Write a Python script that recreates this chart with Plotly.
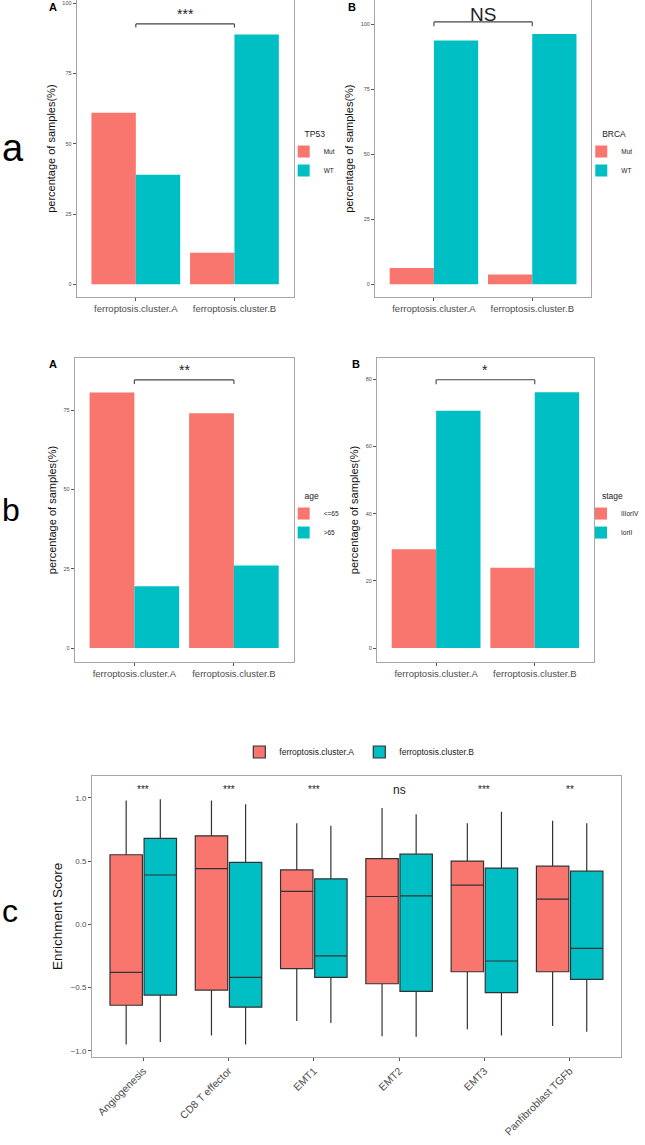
import plotly.graph_objects as go

# ---------------- data ----------------
clusters = ["ferroptosis.cluster.A", "ferroptosis.cluster.B"]

tp53_mut = [61.0, 11.2]
tp53_wt = [39.0, 88.8]
brca_mut = [6.3, 3.8]
brca_wt = [93.7, 96.2]
age_le65 = [80.5, 74.0]
age_gt65 = [19.5, 26.0]
stage_3or4 = [29.4, 23.9]
stage_1or2 = [70.6, 76.1]

signatures = ["Angiogenesis", "CD8 T effector", "EMT1", "EMT2", "EMT3", "Panfibroblast TGFb"]
a_upper = [0.98, 0.98, 0.80, 0.92, 0.80, 0.82]
a_q3 = [0.55, 0.70, 0.43, 0.52, 0.50, 0.46]
a_median = [-0.38, 0.44, 0.26, 0.22, 0.31, 0.20]
a_q1 = [-0.64, -0.52, -0.35, -0.47, -0.375, -0.375]
a_lower = [-0.95, -0.88, -0.765, -0.885, -0.83, -0.805]
b_upper = [0.99, 0.95, 0.78, 0.87, 0.89, 0.80]
b_q3 = [0.68, 0.49, 0.36, 0.555, 0.445, 0.42]
b_median = [0.39, -0.42, -0.25, 0.225, -0.29, -0.19]
b_q1 = [-0.56, -0.655, -0.42, -0.53, -0.54, -0.435]
b_lower = [-0.93, -0.95, -0.78, -0.89, -0.88, -0.85]
box_sig = ["***", "***", "***", "ns", "***", "**"]

RED = "#F8766D"
TEAL = "#00BFC4"
FONT = "Liberation Sans, Arial, sans-serif"
W, H = 645, 1145

def px_x(p):
    return p / W

def px_y(p):
    return 1 - p / H

fig = go.Figure()

# ---------------- bar panels ----------------
bar_panels = [
    ("x", "y", "legend", ["Mut", "WT"], [tp53_mut, tp53_wt]),
    ("x2", "y2", "legend2", ["Mut", "WT"], [brca_mut, brca_wt]),
    ("x3", "y3", "legend3", ["<=65", ">65"], [age_le65, age_gt65]),
    ("x4", "y4", "legend4", ["IIIorIV", "IorII"], [stage_3or4, stage_1or2]),
]
for xa, ya, lg, names, series in bar_panels:
    for nm, vals, col in zip(names, series, [RED, TEAL]):
        fig.add_trace(go.Bar(
            x=clusters, y=vals, name=nm, xaxis=xa, yaxis=ya, legend=lg,
            marker=dict(color=col, line=dict(width=0)),
            hoverinfo="x+y+name",
        ))

# ---------------- box panel ----------------
for nm, q1, med, q3, lo, up, col in [
    ("ferroptosis.cluster.A", a_q1, a_median, a_q3, a_lower, a_upper, RED),
    ("ferroptosis.cluster.B", b_q1, b_median, b_q3, b_lower, b_upper, TEAL),
]:
    fig.add_trace(go.Box(
        x=signatures, q1=q1, median=med, q3=q3, lowerfence=lo, upperfence=up,
        name=nm, xaxis="x5", yaxis="y5", legend="legend5",
        fillcolor=col, line=dict(color="#333333", width=1.2),
        whiskerwidth=0, boxpoints=False,
    ))

# ---------------- axes ----------------
def xstyle(domain, anchor, size, rng, angle=0):
    return dict(
        domain=domain, anchor=anchor, range=rng, showline=True, mirror=True,
        linecolor="#A6A6A6", linewidth=1, ticks="outside", ticklen=3,
        tickcolor="#555555", tickwidth=0.8, showgrid=False, zeroline=False,
        tickfont=dict(size=size, color="#4D4D4D", family=FONT),
        tickangle=angle, automargin=False,
    )

def ystyle(domain, anchor, rng, dtick, size, title, tsize, fmt=None, standoff=4):
    d = dict(
        domain=domain, anchor=anchor, range=rng, dtick=dtick, tick0=0,
        showline=True, mirror=True, linecolor="#A6A6A6", linewidth=1,
        ticks="outside", ticklen=3, tickcolor="#555555", tickwidth=0.8,
        showgrid=False, zeroline=False, automargin=False,
        tickfont=dict(size=size, color="#4D4D4D", family=FONT),
        title=dict(text=title, font=dict(size=tsize, color="#111111", family=FONT), standoff=standoff),
    )
    if fmt:
        d["tickformat"] = fmt
    return d

ya_dom = [px_y(297), px_y(0.3)]
yb_dom = [px_y(661.7), px_y(358.3)]
yc_dom = [px_y(1056.7), px_y(776)]

ylab = "percentage of samples(%)"
fig.update_layout(
    xaxis=xstyle([px_x(77), px_x(295)], "y", 9.5, [-0.6, 1.6]),
    yaxis=ystyle(ya_dom, "x", [-4.5, 101], 25, 5.5, ylab, 11),
    xaxis2=xstyle([px_x(376.7), px_x(594)], "y2", 9.5, [-0.6, 1.6]),
    yaxis2=ystyle(ya_dom, "x2", [-4.9, 109.2], 25, 5.5, ylab, 11),
    xaxis3=xstyle([px_x(75), px_x(295)], "y3", 9.5, [-0.6, 1.6]),
    yaxis3=ystyle(yb_dom, "x3", [-4.3, 91.3], 25, 5.5, ylab, 11),
    xaxis4=xstyle([px_x(378.7), px_x(596.7)], "y4", 9.5, [-0.6, 1.6]),
    yaxis4=ystyle(yb_dom, "x4", [-4.07, 86.2], 20, 5.5, ylab, 11),
    xaxis5=xstyle([px_x(92.5), px_x(623.75)], "y5", 10.5, [-0.6, 5.6], angle=-45),
    yaxis5=ystyle(yc_dom, "x5", [-1.047, 1.173], 0.5, 8, "Enrichment Score", 13.5, fmt=".1f"),
)

# ---------------- legends ----------------
PAD = "\u00a0" * 8

def leg(x, y, title):
    return dict(
        x=x, y=y, xanchor="left", yanchor="top",
        title=dict(text=PAD + title, font=dict(size=8.5, color="#222222", family=FONT)),
        font=dict(size=6.5, color="#222222", family=FONT),
        bgcolor="rgba(0,0,0,0)", borderwidth=0, tracegroupgap=0,
        itemwidth=30, traceorder="normal",
    )

fig.update_layout(
    legend=leg(px_x(285), px_y(126), "TP53"),
    legend2=leg(px_x(584), px_y(126), "BRCA"),
    legend3=leg(px_x(285), px_y(488), "age"),
    legend4=leg(px_x(584), px_y(488), "stage"),
    legend5=dict(
        x=px_x(361), y=px_y(752), xanchor="center", yanchor="middle",
        orientation="h", font=dict(size=8.5, color="#222222", family=FONT),
        bgcolor="rgba(0,0,0,0)", itemwidth=30,
    ),
)

# ---------------- brackets & significance ----------------
brackets = [
    ("x", "y", 92.6, 91.3, "***", 96.0, 14),
    ("x2", "y2", 100.9, 99.2, "NS", 103.8, 19),
    ("x3", "y3", 84.5, 83.2, "**", 87.6, 14),
    ("x4", "y4", 79.8, 78.5, "*", 82.6, 14),
]
shapes = []
annots = []
for xr, yr, yt, yl, lab, ly, sz in brackets:
    lc = dict(color="#444444", width=1.1)
    shapes.append(dict(type="line", xref=xr, yref=yr, x0=0, x1=1, y0=yt, y1=yt, line=lc))
    shapes.append(dict(type="line", xref=xr, yref=yr, x0=0, x1=0, y0=yl, y1=yt, line=lc))
    shapes.append(dict(type="line", xref=xr, yref=yr, x0=1, x1=1, y0=yl, y1=yt, line=lc))
    annots.append(dict(xref=xr, yref=yr, x=0.5, y=ly, text=lab, showarrow=False,
                       font=dict(size=sz, color="#222222", family=FONT),
                       yanchor="middle", xanchor="center"))

for i, lab in enumerate(box_sig):
    annots.append(dict(xref="x5", yref="y5", x=signatures[i], y=1.065, text=lab,
                       showarrow=False, yanchor="middle",
                       font=dict(size=12 if lab == "ns" else 10, color="#222222", family=FONT)))

# panel labels
for x, y, t in [(53, 7, "A"), (354, 7, "B"), (53, 364, "A"), (358, 364, "B")]:
    annots.append(dict(xref="paper", yref="paper", x=px_x(x), y=px_y(y), text="<b>%s</b>" % t,
                       showarrow=False, xanchor="center", yanchor="middle",
                       font=dict(size=11, color="#000000", family=FONT)))
# big row letters
for y, t, s in [(148, "a", 38), (510, "b", 32), (911, "c", 32)]:
    annots.append(dict(xref="paper", yref="paper", x=0, y=px_y(y), text=t,
                       showarrow=False, xanchor="left", yanchor="middle",
                       font=dict(size=s, color="#000000", family=FONT)))

fig.update_layout(
    template="none",
    width=W, height=H, autosize=False,
    margin=dict(l=0, r=0, t=0, b=0),
    paper_bgcolor="white", plot_bgcolor="white",
    barmode="group", bargap=0.1, bargroupgap=0,
    boxmode="group", boxgap=0.2, boxgroupgap=0.05,
    shapes=shapes, annotations=annots,
    font=dict(family=FONT),
)

fig.write_html(
    "out.html",
    config={"displayModeBar": False},
    post_script="document.body.style.margin='0px';document.body.style.padding='0px';",
)
